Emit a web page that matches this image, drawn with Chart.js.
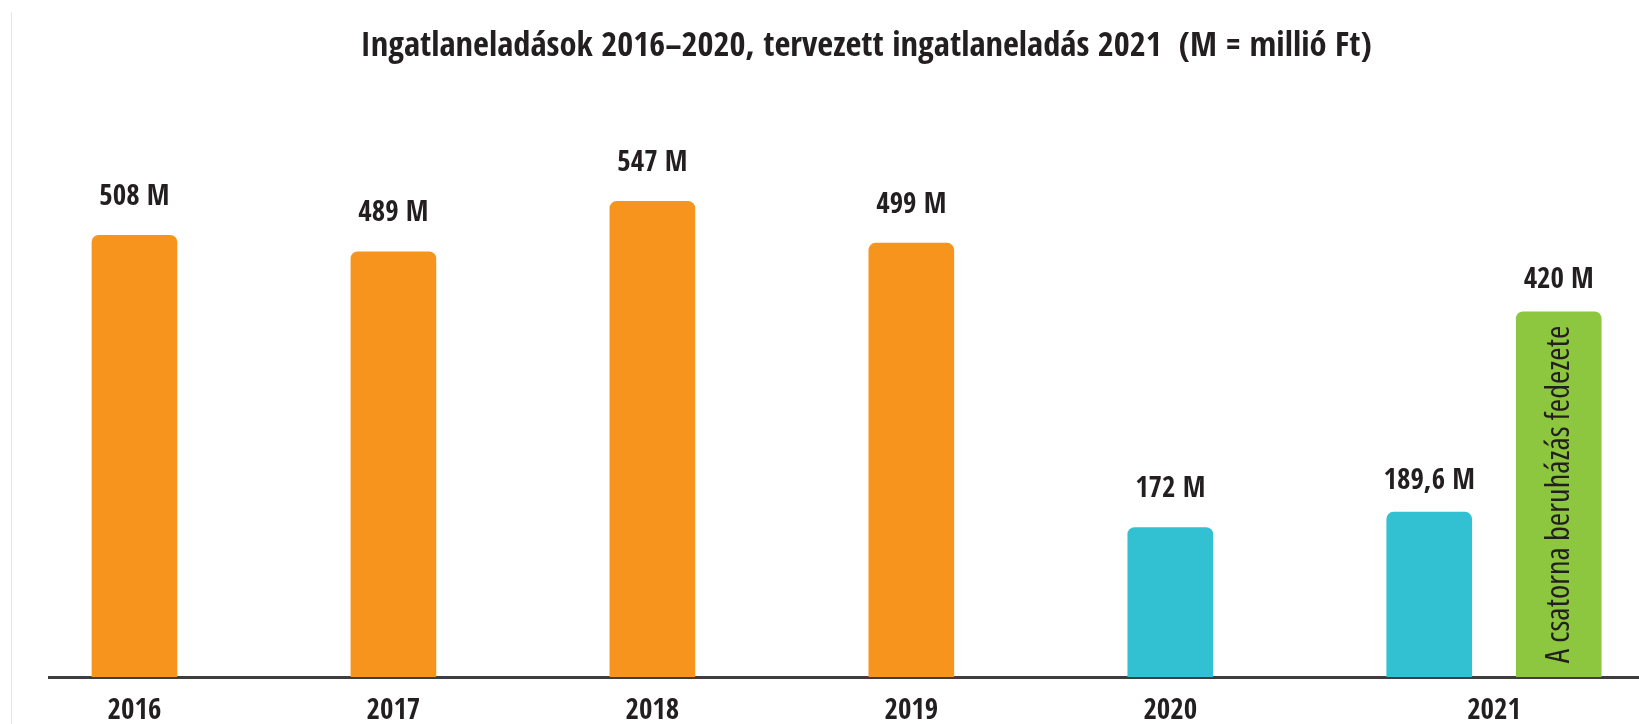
<!DOCTYPE html>
<html>
<head>
<meta charset="utf-8">
<script src="https://cdn.jsdelivr.net/npm/chart.js@4.4.1/dist/chart.umd.min.js"></script>
<style>
  html, body { margin: 0; padding: 0; background: #ffffff; overflow: hidden; }
  #wrap { position: relative; width: 1639px; height: 724px; }
  #edge { position: absolute; left: 11px; top: 12px; width: 1px; height: 712px; background: #e6e6e6; }
  canvas { position: absolute; left: 0; top: 0; }
</style>
</head>
<body>
<div id="wrap">
  <div id="edge"></div>
  <canvas id="c" width="1639" height="724"></canvas>
</div>
<script>
// ---- data ----
const titleText = 'Ingatlaneladások 2016–2020, tervezett ingatlaneladás 2021  (M = millió Ft)';
const years = [2016, 2017, 2018, 2019, 2020, 2021];
const sales = [508, 489, 547, 499, 172, 189.6];          // millió Ft
const plannedYear = 2021;
const plannedValue = 420;                               // millió Ft
const plannedText = 'A csatorna beruházás fedezete';

// ---- style ----
const FONT = "'Open Sans Condensed', 'Open Sans', sans-serif";
const ORANGE = '#F7941E';
const CYAN = '#31C1D2';
const GREEN = '#8DC63F';
const INK = '#231F20';
const GROUP_OFFSET = 0.5;   // planned bar sits half a slot right of its year

const fmt = v => String(v).replace('.', ',') + ' M';

const salesData = years.map((y, i) => ({ x: y, y: sales[i] }));
const plannedData = [{ x: plannedYear + GROUP_OFFSET, y: plannedValue }];
const tickValues = years.map(y => y === plannedYear ? y + GROUP_OFFSET / 2 : y);

const labelPlugin = {
  id: 'valueLabels',
  afterDatasetsDraw(chart) {
    const ctx = chart.ctx;
    ctx.save();
    ctx.fillStyle = INK;
    ctx.textAlign = 'center';
    ctx.textBaseline = 'middle';
    chart.data.datasets.forEach((ds, di) => {
      const meta = chart.getDatasetMeta(di);
      meta.data.forEach((bar, i) => {
        const v = ds.data[i].y;
        const xv = ds.data[i].x;
        const off = xv >= plannedYear ? 31 : 38;
        ctx.font = "bold 29px " + FONT;
        ctx.fillText(fmt(v), bar.x, bar.y - off);
        if (di === 1) {
          ctx.save();
          ctx.translate(bar.x + 1, (bar.y + bar.base) / 2);
          ctx.rotate(-Math.PI / 2);
          ctx.font = "500 condensed 32.5px 'Open Sans', sans-serif";
          ctx.fillText(plannedText, 0, 0);
          ctx.restore();
        }
      });
    });
    ctx.restore();
  }
};

const titlePlugin = {
  id: 'pageTitle',
  afterDraw(chart) {
    const ctx = chart.ctx;
    ctx.save();
    ctx.fillStyle = INK;
    ctx.textAlign = 'center';
    ctx.textBaseline = 'middle';
    ctx.font = 'bold 34.5px ' + FONT;
    ctx.fillText(titleText, 866, 47);
    ctx.restore();
  }
};

new Chart(document.getElementById('c'), {
  type: 'bar',
  data: {
    datasets: [
      {
        label: 'Ingatlaneladás',
        data: salesData,
        backgroundColor: c => (c.raw && c.raw.x >= 2020) ? CYAN : ORANGE,
        barThickness: 85,
        borderRadius: { topLeft: 7, topRight: 7, bottomLeft: 0, bottomRight: 0 },
        borderSkipped: 'bottom'
      },
      {
        label: 'Tervezett ingatlaneladás',
        data: plannedData,
        backgroundColor: GREEN,
        barThickness: 85,
        borderRadius: { topLeft: 7, topRight: 7, bottomLeft: 0, bottomRight: 0 },
        borderSkipped: 'bottom'
      }
    ]
  },
  options: {
    responsive: false,
    animation: false,
    layout: { padding: { left: 49, right: 0, top: 68.4, bottom: -21 } },
    plugins: {
      legend: { display: false },
      tooltip: { enabled: false },
      title: { display: false }
    },
    scales: {
      x: {
        type: 'linear',
        min: 2015.67,
        max: 2021.81,
        offset: false,
        stacked: true,
        grid: { display: false, drawTicks: false },
        border: { display: true, color: '#3d3d3d', width: 3 },
        afterBuildTicks: s => { s.ticks = tickValues.map(v => ({ value: v })); },
        ticks: {
          color: INK,
          padding: 19.5,
          font: { family: FONT, size: 29, weight: 'bold', lineHeight: 1.0 },
          callback: (v, i) => String(years[i]),
          autoSkip: false,
          maxRotation: 0
        }
      },
      y: {
        display: false,
        min: 0,
        max: 700
      }
    }
  },
  plugins: [labelPlugin, titlePlugin]
});
</script>
</body>
</html>
